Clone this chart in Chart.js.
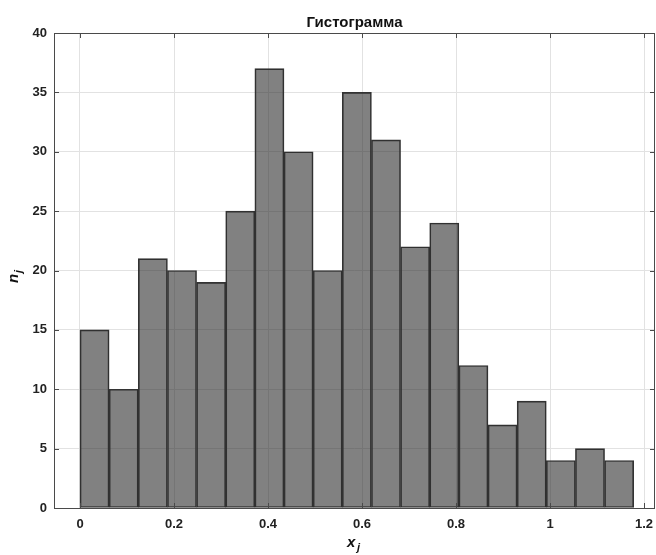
<!DOCTYPE html>
<html>
<head>
<meta charset="utf-8">
<script src="https://cdn.jsdelivr.net/npm/chart.js@4"></script>
<style>
  html, body { margin: 0; padding: 0; background: #fff; }
  #wrap { width: 656px; height: 555px; }
</style>
</head>
<body>
<div id="wrap"><canvas id="histChart" width="656" height="555"></canvas></div>
<script>
// bin centres (bin width 0.062) and counts
var binCenters = [0.031, 0.093, 0.155, 0.217, 0.279, 0.341, 0.403, 0.465, 0.527, 0.589,
                  0.651, 0.713, 0.775, 0.837, 0.899, 0.961, 1.023, 1.085, 1.147];
var counts = [15, 10, 21, 20, 19, 25, 37, 30, 20, 35, 31, 22, 24, 12, 7, 9, 4, 5, 4];
var xTicks = [0, 0.2, 0.4, 0.6, 0.8, 1, 1.2];
var yTicks = [0, 5, 10, 15, 20, 25, 30, 35, 40];
var titleText = "Гистограмма";

var points = binCenters.map(function (c, i) { return { x: c, y: counts[i] }; });

var FONT = "'Liberation Sans', Arial, sans-serif";

// title, box around the axes with inward ticks, plus the n_j / x_j labels
var axesDecor = {
  id: "axesDecor",
  afterDraw: function (chart) {
    var ctx = chart.ctx;
    var a = chart.chartArea;
    var xs = chart.scales.x, ys = chart.scales.y;
    ctx.save();
    ctx.strokeStyle = "#4a4a4a";
    ctx.lineWidth = 1;
    ctx.strokeRect(a.left + 0.5, a.top + 0.5, a.right - a.left - 1, a.bottom - a.top);
    ctx.beginPath();
    xTicks.forEach(function (v) {
      var px = Math.round(xs.getPixelForValue(v)) + 0.5;
      ctx.moveTo(px, a.bottom); ctx.lineTo(px, a.bottom - 5);
      ctx.moveTo(px, a.top); ctx.lineTo(px, a.top + 5);
    });
    yTicks.forEach(function (v) {
      var py = Math.round(ys.getPixelForValue(v)) + 0.5;
      ctx.moveTo(a.left, py); ctx.lineTo(a.left + 5, py);
      ctx.moveTo(a.right, py); ctx.lineTo(a.right - 5, py);
    });
    ctx.stroke();

    ctx.fillStyle = "#111";
    ctx.textBaseline = "alphabetic";
    // title over the plot area
    ctx.textAlign = "center";
    ctx.font = "bold 15px " + FONT;
    ctx.fillText(titleText, (a.left + a.right) / 2, 27);
    // x_j
    ctx.textAlign = "left";
    ctx.font = "italic bold 15px " + FONT;
    ctx.fillText("x", 347, 547);
    ctx.font = "italic bold 11px " + FONT;
    ctx.fillText("j", 357, 551);
    // n_j, rotated
    ctx.translate(18, 283);
    ctx.rotate(-Math.PI / 2);
    ctx.font = "italic bold 15px " + FONT;
    ctx.fillText("n", 0, 0);
    ctx.font = "italic bold 11px " + FONT;
    ctx.fillText("j", 10, 4);
    ctx.restore();
  }
};

var ctx = document.getElementById("histChart").getContext("2d");

var histChart = new Chart(ctx, {
  type: "bar",
  data: {
    datasets: [
      {
        data: points,
        backgroundColor: "rgba(45,45,45,0.6)",
        borderColor: "#333333",
        borderWidth: 1,
        borderSkipped: false,
        barPercentage: 1,
        categoryPercentage: 1,
      },
    ],
  },
  options: {
    responsive: false,
    animation: false,
    layout: { padding: { left: 0, right: 1, top: 33, bottom: 0 } },
    plugins: {
      legend: { display: false },
      tooltip: { enabled: false },
      title: { display: false },
    },
    scales: {
      x: {
        type: "linear",
        offset: false,
        min: -0.0553,
        max: 1.2233,
        afterBuildTicks: function (scale) {
          scale.ticks = xTicks.map(function (v) { return { value: v }; });
        },
        afterFit: function (scale) {
          scale.height = 47;
          scale.paddingLeft = 0;
          scale.paddingRight = 0;
        },
        grid: { color: "#e2e2e2", drawTicks: false, offset: false },
        border: { display: false },
        ticks: {
          padding: 9,
          color: "#222",
          font: { family: FONT, size: 13, weight: "bold" },
          callback: function (v) { return String(v); },
        },
      },
      y: {
        min: 0,
        max: 40,
        afterBuildTicks: function (scale) {
          scale.ticks = yTicks.map(function (v) { return { value: v }; });
        },
        afterFit: function (scale) {
          scale.width = 54;
          scale.paddingTop = 0;
          scale.paddingBottom = 0;
        },
        grid: { color: "#e2e2e2", drawTicks: false },
        border: { display: false },
        ticks: {
          padding: 7,
          color: "#222",
          font: { family: FONT, size: 13, weight: "bold" },
        },
      },
    },
  },
  plugins: [axesDecor],
});
</script>
</body>
</html>
